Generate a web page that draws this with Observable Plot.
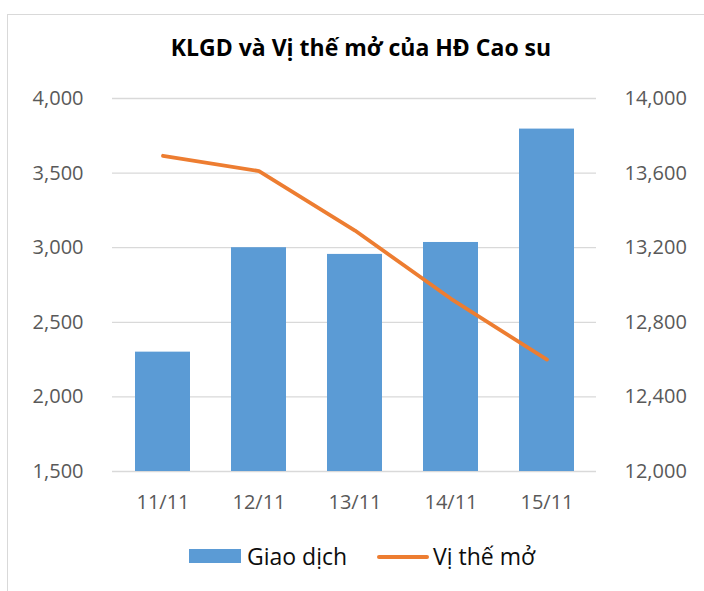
<!DOCTYPE html>
<html>
<head>
<meta charset="utf-8">
<script src="https://cdn.jsdelivr.net/npm/d3@7"></script>
<script src="https://cdn.jsdelivr.net/npm/@observablehq/plot@0.6"></script>
<style>
  html, body { margin: 0; padding: 0; background: #fff; }
  #wrap { position: relative; width: 704px; height: 591px; overflow: hidden; font-family: "Open Sans", sans-serif; }
  #frame { position: absolute; left: 7px; top: 14px; width: 900px; height: 900px; border-left: 1.5px solid #d9d9d9; border-top: 1.5px solid #d9d9d9; }
  #chart { position: absolute; left: 0; top: 0; }
  #title { position: absolute; left: 0; width: 722px; top: 36px; text-align: center; font-weight: 700; font-size: 23px; line-height: 23px; color: #000; white-space: nowrap; }
  .lg { position: absolute; }
  .lgtext { position: absolute; top: 544.5px; font-size: 23px; line-height: 23px; color: #0d0d0d; white-space: nowrap; }
</style>
</head>
<body>
<div id="wrap">
  <div id="frame"></div>
  <div id="chart"></div>
  <div id="title">KLGD và Vị thế mở của HĐ Cao su</div>
  <div class="lg" style="left:189px; top:549px; width:52px; height:14px; background:#5b9bd5;"></div>
  <div class="lgtext" style="left:247px;">Giao dịch</div>
  <div class="lg" style="left:377px; top:554.7px; width:52px; height:4px; border-radius:2px; background:#ed7d31;"></div>
  <div class="lgtext" style="left:433px;">Vị thế mở</div>
</div>
<script>
const dates = ["11/11", "12/11", "13/11", "14/11", "15/11"];
const volume = [2300, 3000, 2955, 3035, 3795];
const openInterest = [13693, 13611, 13292, 12926, 12600];
const leftTicks = [1500, 2000, 2500, 3000, 3500, 4000];
const rightTicks = [12000, 12400, 12800, 13200, 13600, 14000];

const L0 = 1500, L1 = 4000, R0 = 12000, R1 = 14000;
const toLeft = v => L0 + (v - R0) * (L1 - L0) / (R1 - R0);
const fromLeft = v => R0 + (v - L0) * (R1 - R0) / (L1 - L0);
const fmt = d3.format(",");

const bars = dates.map((d, i) => ({date: d, v: volume[i]}));
const line = dates.map((d, i) => ({date: d, v: toLeft(openInterest[i])}));

const plot = Plot.plot({
  width: 704,
  height: 591,
  marginLeft: 112,
  marginRight: 108,
  marginTop: 98,
  marginBottom: 120,
  style: {fontFamily: "Open Sans", fontSize: "20px", color: "#595959", background: "transparent"},
  x: {type: "band", domain: dates, paddingInner: 0.43, paddingOuter: 0.215, label: null},
  y: {domain: [L0, L1], label: null},
  marks: [
    Plot.gridY(leftTicks, {stroke: "#d9d9d9", strokeOpacity: 1, strokeWidth: 1.3}),
    Plot.barY(bars, {x: "date", y1: L0, y2: "v", fill: "#5b9bd5"}),
    Plot.line(line, {x: "date", y: "v", stroke: "#ed7d31", strokeWidth: 3.8, strokeLinecap: "round", strokeLinejoin: "round"}),
    Plot.axisY(leftTicks, {anchor: "left", tickSize: 0, tickPadding: 29, tickFormat: fmt, label: null}),
    Plot.axisY(rightTicks.map(toLeft), {anchor: "right", tickSize: 0, tickPadding: 28, tickFormat: d => fmt(Math.round(fromLeft(d))), textAnchor: "start", label: null}),
    Plot.axisX({tickSize: 0, tickPadding: 23, label: null})
  ]
});
document.getElementById("chart").appendChild(plot);
</script>
</body>
</html>
